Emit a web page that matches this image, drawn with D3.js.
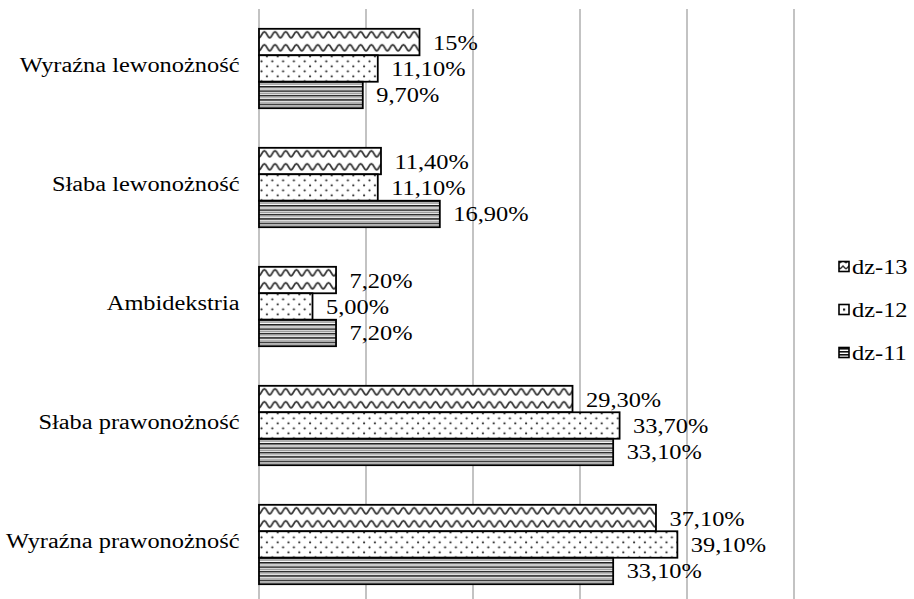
<!DOCTYPE html>
<html>
<head>
<meta charset="utf-8">
<script src="https://cdn.jsdelivr.net/npm/d3@7"></script>
<style>
  html, body { margin: 0; padding: 0; background: #fff; }
  svg { display: block; }
</style>
</head>
<body>
<svg id="chart" width="914" height="599"></svg>
<script>
// Categories (top to bottom) and the three survey series, in percent
const categories = ["Wyraźna lewonożność", "Słaba lewonożność", "Ambidekstria", "Słaba prawonożność", "Wyraźna prawonożność"];
const seriesNames = ["dz-13", "dz-12", "dz-11"];
const dz13 = [15, 11.4, 7.2, 29.3, 37.1];
const dz12 = [11.1, 11.1, 5.0, 33.7, 39.1];
const dz11 = [9.7, 16.9, 7.2, 33.1, 33.1];
const valueLabels = [
  ["15%", "11,40%", "7,20%", "29,30%", "37,10%"],
  ["11,10%", "11,10%", "5,00%", "33,70%", "39,10%"],
  ["9,70%", "16,90%", "7,20%", "33,10%", "33,10%"]
];
const xTicks = [0, 10, 20, 30, 40, 50];

const seriesValues = [dz13, dz12, dz11];
const patternIds = ["pat-wave", "pat-dots", "pat-lines"];
const legendPatternIds = ["pat-wave-s", "pat-dots-s", "pat-lines-s"];

const svg = d3.select("#chart");
const fontFamily = "'Liberation Serif', 'Times New Roman', 'DejaVu Serif', serif";
const stretch = 1.19;      // horizontal text stretch of the layout
const fontSize = 20.5;

// ---- fill patterns ----
const defs = svg.append("defs");

// zigzag waves
const wave = defs.append("pattern").attr("id", "pat-wave")
  .attr("patternUnits", "userSpaceOnUse").attr("width", 10.7).attr("height", 13)
  .attr("x", 259).attr("y", 0);
wave.append("rect").attr("width", 10.7).attr("height", 13).attr("fill", "#fff");
wave.append("path")
  .attr("d", "M0,9 C2.7,9 2.7,3 5.35,3 C8,3 8,9 10.7,9")
  .attr("fill", "none").attr("stroke", "#333").attr("stroke-width", 1.8);

// staggered dots
const dots = defs.append("pattern").attr("id", "pat-dots")
  .attr("patternUnits", "userSpaceOnUse").attr("width", 10.8).attr("height", 10)
  .attr("x", 259).attr("y", 0);
dots.append("rect").attr("width", 10.8).attr("height", 10).attr("fill", "#fff");
dots.append("circle").attr("cx", 2.5).attr("cy", 2.5).attr("r", 1.1).attr("fill", "#222");
dots.append("circle").attr("cx", 7.9).attr("cy", 7.5).attr("r", 1.1).attr("fill", "#222");

// horizontal stripes
const lines = defs.append("pattern").attr("id", "pat-lines")
  .attr("patternUnits", "userSpaceOnUse").attr("width", 8).attr("height", 4.4)
  .attr("x", 0).attr("y", 0);
lines.append("rect").attr("width", 8).attr("height", 4.4).attr("fill", "#fff");
lines.append("rect").attr("y", 0).attr("width", 8).attr("height", 1.5).attr("fill", "#1e1e1e");
lines.append("rect").attr("y", 2.4).attr("width", 8).attr("height", 1.1).attr("fill", "#9a9a9a");

// small versions for the legend keys
const waveS = defs.append("pattern").attr("id", "pat-wave-s")
  .attr("patternUnits", "userSpaceOnUse").attr("width", 6).attr("height", 6);
waveS.append("rect").attr("width", 6).attr("height", 6).attr("fill", "#fff");
waveS.append("path").attr("d", "M0,5 L3,2 L6,5").attr("fill", "none").attr("stroke", "#333").attr("stroke-width", 1.5);
const dotsS = defs.append("pattern").attr("id", "pat-dots-s")
  .attr("patternUnits", "objectBoundingBox").attr("width", 1).attr("height", 1);
dotsS.append("rect").attr("width", 12).attr("height", 12).attr("fill", "#fff");
dotsS.append("rect").attr("x", 4).attr("y", 4).attr("width", 2.2).attr("height", 2.2).attr("fill", "#222");
const linesS = defs.append("pattern").attr("id", "pat-lines-s")
  .attr("patternUnits", "userSpaceOnUse").attr("width", 4).attr("height", 3);
linesS.append("rect").attr("width", 4).attr("height", 3).attr("fill", "#fff");
linesS.append("rect").attr("width", 4).attr("height", 1.6).attr("fill", "#111");

// ---- scales ----
const x = d3.scaleLinear().domain([0, 50]).range([259, 794]);
const y = d3.scaleBand().domain(categories).range([9, 604])
  .paddingInner(0.333).paddingOuter(0.1665);
const ySub = d3.scaleBand().domain(seriesNames).range([0, y.bandwidth()]);

// ---- gridlines ----
svg.append("g").selectAll("line").data(xTicks).join("line")
  .attr("x1", d => x(d)).attr("x2", d => x(d))
  .attr("y1", 9).attr("y2", 604)
  .attr("stroke", "#878787").attr("stroke-width", 1);

// ---- bars ----
const groups = svg.append("g").selectAll("g").data(categories).join("g")
  .attr("transform", c => `translate(0,${y(c)})`);

seriesNames.forEach((s, si) => {
  groups.append("rect")
    .attr("x", x(0))
    .attr("y", ySub(s))
    .attr("width", (c, ci) => x(seriesValues[si][ci]) - x(0))
    .attr("height", ySub.bandwidth())
    .attr("fill", `url(#${patternIds[si]})`)
    .attr("stroke", "#000").attr("stroke-width", 1.8);
});

// ---- text helper: serif text with the layout's horizontal stretch ----
function stretchedText(parent, tx, ty, str, anchor) {
  const g = parent.append("g").attr("transform", `translate(${tx},${ty}) scale(${stretch},1)`);
  g.append("text").attr("x", 0).attr("y", 0)
    .attr("text-anchor", anchor || "start")
    .attr("font-family", fontFamily)
    .attr("font-size", fontSize)
    .attr("fill", "#000")
    .text(str);
  return g;
}

// ---- value labels ----
const labelLayer = svg.append("g");
categories.forEach((c, ci) => {
  seriesNames.forEach((s, si) => {
    const v = seriesValues[si][ci];
    const cy = y(c) + ySub(s) + ySub.bandwidth() / 2;
    stretchedText(labelLayer, x(v) + 13.5, cy + 7.5, valueLabels[si][ci], "start");
  });
});

// ---- category labels ----
categories.forEach(c => {
  stretchedText(labelLayer, 239.5, y(c) + y.bandwidth() / 2 + 3.5, c, "end");
});

// ---- legend ----
const legend = svg.append("g");
seriesNames.forEach((s, i) => {
  const ly = 267 + i * 43;
  legend.append("rect")
    .attr("x", 839).attr("y", ly - 5.5).attr("width", 10).attr("height", 10)
    .attr("fill", `url(#${legendPatternIds[i]})`)
    .attr("stroke", "#000").attr("stroke-width", 1.6);
  stretchedText(legend, 852, ly + 6.5, s, "start");
});
</script>
</body>
</html>
